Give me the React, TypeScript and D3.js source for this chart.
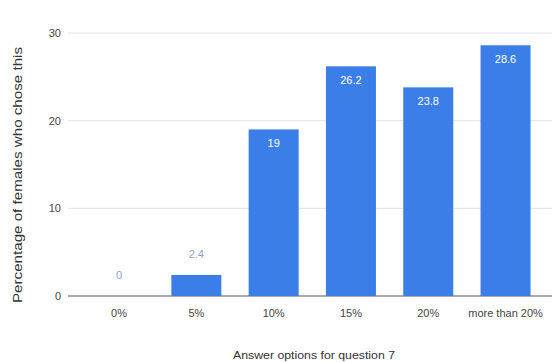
import React from "react";
import * as d3 from "d3";

const categories = ["0%", "5%", "10%", "15%", "20%", "more than 20%"];
const values = [0, 2.4, 19, 26.2, 23.8, 28.6];
const yTicks = [0, 10, 20, 30];
const xTitle = "Answer options for question 7";
const yTitle = "Percentage of females who chose this";

const W = 552;
const H = 362;
const FONT = "'Liberation Sans Narrow', 'Liberation Sans', Arial, sans-serif";
const BAR = "#3c7ee8";

export default function App() {
  const x = d3
    .scaleBand<string>()
    .domain(categories)
    .range([80.4, 544.2])
    .paddingInner(0.353)
    .paddingOuter(0.1765);
  const y = d3.scaleLinear().domain([0, 30]).range([296, 33]);
  const gridLeft = 68;

  return (
    <svg
      width={W}
      height={H}
      style={{ position: "absolute", left: 0, top: 0, background: "#fff" }}
      fontFamily={FONT}
    >
      {yTicks.map((t) => (
        <g key={t}>
          <line
            x1={gridLeft}
            x2={W}
            y1={y(t)}
            y2={y(t)}
            stroke={t === 0 ? "#8f8f8f" : "#e3e3e3"}
            strokeWidth={t === 0 ? 1.5 : 1}
          />
          <text
            x={61}
            y={y(t)}
            dy="0.35em"
            textAnchor="end"
            fontSize={11}
            fill="#444"
          >
            {t}
          </text>
        </g>
      ))}
      {categories.map((c, i) => {
        const v = values[i];
        const bx = x(c)!;
        const bw = x.bandwidth();
        const top = y(v);
        const inside = v >= 10;
        return (
          <g key={c}>
            {v > 0 && (
              <rect x={bx} y={top} width={bw} height={y(0) - top} fill={BAR} />
            )}
            <text
              x={bx + bw / 2}
              y={inside ? top + 18 : top - 17}
              textAnchor="middle"
              fontSize={11}
              fill={inside ? "#ffffff" : "#8c9fd6"}
            >
              {v}
            </text>
            <text
              x={bx + bw / 2}
              y={313}
              dy="0.35em"
              textAnchor="middle"
              fontSize={11}
              fill="#444"
            >
              {c}
            </text>
          </g>
        );
      })}
      <text
        x={314}
        y={355}
        dy="0.35em"
        textAnchor="middle"
        fontSize={11}
        fill="#333"
        textLength={162}
        lengthAdjust="spacingAndGlyphs"
      >
        {xTitle}
      </text>
      <text
        transform={`translate(18, 175) rotate(-90)`}
        dy="0.35em"
        textAnchor="middle"
        fontSize={12}
        fill="#333"
        textLength={256}
        lengthAdjust="spacingAndGlyphs"
      >
        {yTitle}
      </text>
    </svg>
  );
}
